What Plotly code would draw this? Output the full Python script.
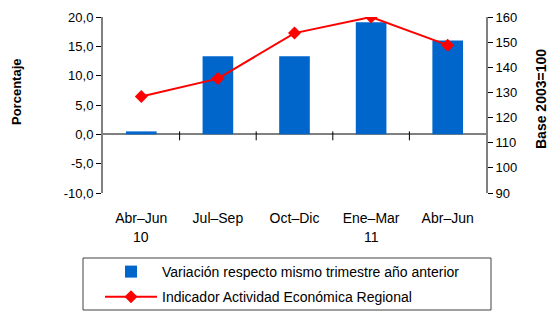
import plotly.graph_objects as go

categories = ["Abr–Jun", "Jul–Sep", "Oct–Dic", "Ene–Mar", "Abr–Jun"]
years = ["10", "", "", "11", ""]
variacion = [0.5, 13.3, 13.3, 19.1, 16.0]
indicador = [128.4, 135.5, 153.6, 160.0, 148.8]
left_ticks = [-10, -5, 0, 5, 10, 15, 20]
right_ticks = [90, 100, 110, 120, 130, 140, 150, 160]

FONT = "Liberation Sans, Arial, sans-serif"
idx = list(range(len(categories)))
left_text = [f"{v:.1f}".replace(".", ",") for v in left_ticks]

# plot area in pixels (for converting decorations to paper coords)
L, R, T, B = 103, 486, 17, 193
W, H = 551, 312
def px(xp):
    return (xp - L) / (R - L)
def py(yp):
    return (B - yp) / (B - T)

fig = go.Figure()
fig.add_trace(go.Bar(
    x=idx, y=variacion, name="Variación respecto mismo trimestre año anterior",
    marker=dict(color="#0066CC", line=dict(width=0)), width=0.4, yaxis="y",
    legendgroup="a",
))
fig.add_trace(go.Scatter(
    x=idx, y=indicador, name="Indicador Actividad Económica Regional",
    mode="lines+markers", line=dict(color="#FF0000", width=2),
    marker=dict(symbol="diamond", size=10, color="#FF0000"), yaxis="y2",
    legendgroup="b",
))

shapes = []
for i in idx[:-1]:
    shapes.append(dict(type="line", xref="x", yref="y", x0=i + 0.5, x1=i + 0.5,
                       ysizemode="pixel", yanchor=0, y0=-6, y1=3,
                       line=dict(color="#000000", width=1)))
# legend frame
shapes.append(dict(type="rect", xref="paper", yref="paper",
                   x0=px(83), x1=px(491), y0=py(310), y1=py(258),
                   line=dict(color="#404040", width=1), fillcolor="rgba(0,0,0,0)"))

annotations = []
for i, yr in zip(idx, years):
    if yr:
        annotations.append(dict(x=i, y=py(237), xref="x", yref="paper", text=yr,
                                showarrow=False, yanchor="middle",
                                font=dict(family=FONT, size=14, color="#000000")))
annotations.append(dict(x=px(16), y=py(92), xref="paper", yref="paper",
                        text="<b>Porcentaje</b>", textangle=-90, showarrow=False,
                        xanchor="center", yanchor="middle",
                        font=dict(family=FONT, size=13, color="#000000")))
annotations.append(dict(x=px(541), y=py(99), xref="paper", yref="paper",
                        text="<b>Base 2003=100</b>", textangle=-90, showarrow=False,
                        xanchor="center", yanchor="middle",
                        font=dict(family=FONT, size=14, color="#000000")))

fig.update_layout(
    width=W, height=H,
    margin=dict(l=L, r=W - R, t=T, b=H - B, autoexpand=False),
    paper_bgcolor="white", plot_bgcolor="white",
    font=dict(family=FONT, size=12, color="#000000"),
    showlegend=True,
    legend=dict(x=px(100), y=py(256), xanchor="left", yanchor="top",
                borderwidth=0, itemwidth=52, tracegroupgap=4,
                font=dict(family=FONT, size=14, color="#000000"),
                bgcolor="rgba(0,0,0,0)"),
    xaxis=dict(range=[-0.5, 4.5], tickmode="array", tickvals=idx, ticktext=categories,
               showline=False, ticks="", showgrid=False, zeroline=False,
               automargin=False, ticklabelstandoff=15, tickfont=dict(size=14)),
    yaxis=dict(range=[-10, 20], tickmode="array", tickvals=left_ticks, ticktext=left_text,
               showline=True, linecolor="#808080", linewidth=2,
               ticks="outside", ticklen=5, tickcolor="#000000",
               showgrid=False, zeroline=True, zerolinecolor="#808080", zerolinewidth=2,
               automargin=False, tickfont=dict(size=13)),
    yaxis2=dict(range=[90, 160], tickmode="array", tickvals=right_ticks,
                overlaying="y", side="right",
                showline=True, linecolor="#808080", linewidth=2,
                ticks="outside", ticklen=5, tickcolor="#000000",
                showgrid=False, zeroline=False, automargin=False,
                tickfont=dict(size=13)),
    shapes=shapes, annotations=annotations,
)

fig.write_html("out.html", config={"displayModeBar": False},
               post_script="document.body.style.margin='0';document.body.style.overflow='hidden';")
